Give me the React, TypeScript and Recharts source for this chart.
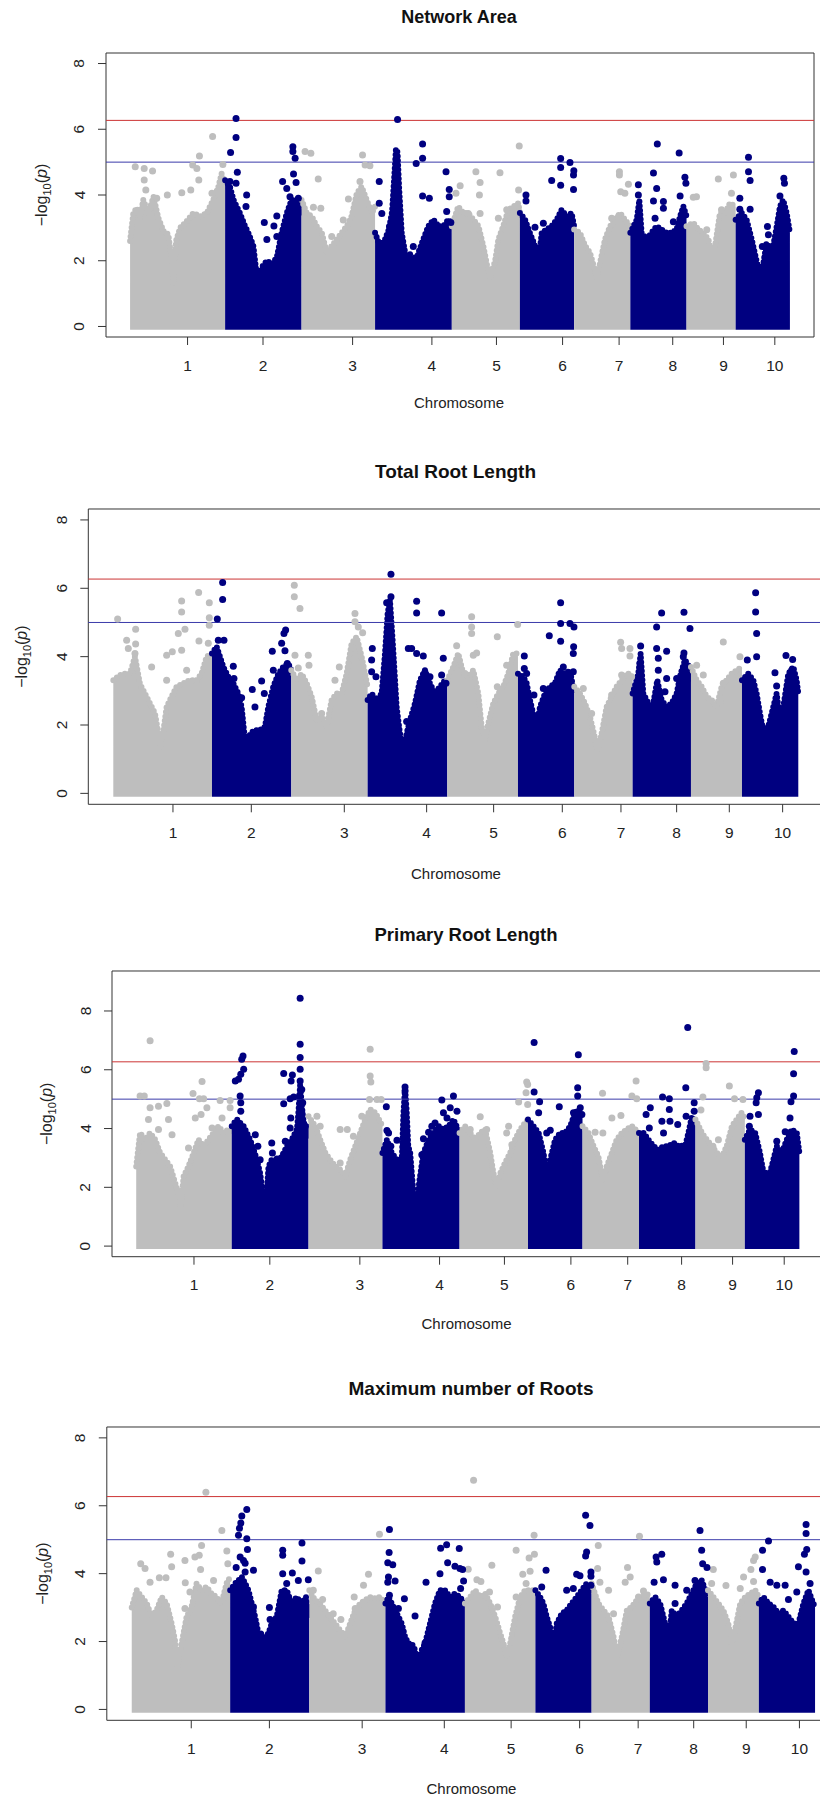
import React from 'react';
import { ComposedChart, Area, Scatter, XAxis, YAxis, ReferenceLine, ReferenceArea } from 'recharts';

// genome layout (cumulative Mb)
const chromStarts = [0, 296, 534, 763, 1002, 1214, 1383, 1558, 1733, 1886];
const chromTicks = [179, 414, 693, 940, 1141, 1347, 1523, 1690, 1848, 2008];
const chromLabels = ['1', '2', '3', '4', '5', '6', '7', '8', '9', '10'];
const yTicks = [0, 2, 4, 6, 8];
const bonferroni = 6.27;
const suggestive = 5;

// dense SNP cloud: top edge per chromosome, [position, -log10 p]
const networkAreaMass = [
  [[0, 2.6], [10, 3.45], [21, 3.6], [31, 3.3], [41, 3.85], [57, 3.45], [73, 3.95], [88, 3.3], [104, 2.9], [119, 2.8], [130, 2.0], [135, 1.3], [143, 2.6], [156, 3.0], [176, 3.2], [197, 3.45], [218, 3.35], [239, 3.45], [259, 3.85], [275, 4.25], [285, 4.65], [296, 4.25]],
  [[296, 4.45], [311, 4.25], [322, 3.85], [332, 3.65], [342, 3.45], [358, 3.05], [368, 2.85], [384, 2.45], [394, 1.6], [400, 1.2], [410, 1.8], [426, 2.0], [441, 1.9], [457, 2.1], [472, 2.85], [488, 3.45], [503, 3.85], [519, 3.85], [534, 3.45]],
  [[534, 3.85], [550, 3.45], [566, 3.35], [581, 3.05], [597, 2.85], [612, 2.25], [628, 2.45], [644, 2.65], [659, 2.85], [675, 3.05], [690, 3.35], [706, 4.05], [721, 4.25], [737, 3.85], [753, 3.45], [763, 3.65]],
  [[763, 2.85], [778, 2.45], [794, 2.65], [806, 2.95], [816, 3.5], [823, 4.6], [828, 5.4], [833, 5.3], [838, 4.2], [846, 2.85], [861, 2.0], [872, 2.2], [882, 1.65], [898, 2.25], [913, 2.65], [929, 3.05], [945, 3.25], [960, 3.05], [976, 3.05], [991, 3.25], [1002, 3.15]],
  [[1002, 3.05], [1022, 3.65], [1038, 3.45], [1053, 3.45], [1069, 3.25], [1085, 3.05], [1100, 2.45], [1113, 1.8], [1121, 1.5], [1137, 2.0], [1147, 2.65], [1162, 3.05], [1178, 3.55], [1194, 3.65], [1209, 3.75], [1214, 3.45]],
  [[1214, 3.45], [1230, 3.25], [1245, 2.85], [1261, 2.45], [1271, 1.9], [1282, 2.85], [1297, 2.95], [1313, 3.05], [1329, 3.25], [1344, 3.55], [1360, 3.35], [1375, 3.45], [1383, 3.05]],
  [[1383, 2.95], [1401, 2.85], [1417, 2.45], [1432, 2.25], [1445, 1.8], [1453, 1.5], [1463, 1.9], [1479, 2.65], [1495, 3.05], [1510, 3.25], [1526, 3.45], [1541, 3.25], [1558, 3.05]],
  [[1558, 2.85], [1578, 3.25], [1586, 3.85], [1593, 2.85], [1609, 2.65], [1624, 2.85], [1640, 3.05], [1655, 2.95], [1671, 2.85], [1687, 2.85], [1702, 2.95], [1713, 3.35], [1723, 3.65], [1733, 3.35]],
  [[1733, 3.05], [1754, 3.15], [1770, 2.95], [1785, 2.85], [1801, 2.65], [1811, 2.25], [1822, 2.45], [1837, 3.45], [1853, 3.45], [1868, 3.75], [1886, 3.65]],
  [[1886, 3.25], [1905, 3.45], [1920, 3.25], [1936, 2.65], [1951, 2.0], [1962, 1.6], [1972, 1.9], [1982, 2.55], [1993, 2.0], [2003, 2.45], [2014, 3.05], [2024, 3.65], [2034, 3.85], [2045, 3.45], [2055, 2.85]],
];
// isolated SNPs above the cloud
const networkAreaHits = [
  [16, 4.86], [44, 4.81], [44, 4.46], [70, 4.73], [49, 4.15], [83, 3.9], [116, 4.0], [161, 4.07], [189, 4.15], [195, 4.91], [208, 4.81], [216, 5.19], [257, 5.78], [289, 4.93], [255, 4.05], [214, 4.46],
  [330, 6.33], [330, 5.75], [313, 5.29], [334, 4.69], [311, 4.41], [330, 4.36], [363, 4.0], [361, 3.65], [418, 3.16], [426, 2.65], [448, 3.06], [457, 3.36], [457, 2.74], [475, 4.41], [488, 4.2], [507, 5.47], [507, 5.32], [514, 5.12], [509, 4.64], [517, 4.38], [498, 3.95], [524, 3.9],
  [545, 5.32], [563, 5.27], [586, 4.49], [571, 3.63], [594, 3.6], [680, 3.88], [724, 5.22], [732, 4.91], [747, 4.89], [716, 4.41], [664, 3.24], [628, 2.74],
  [833, 6.3], [830, 5.02], [776, 4.41], [776, 3.75], [784, 3.44], [808, 3.04], [911, 5.55], [911, 5.12], [891, 4.96], [911, 3.97], [932, 3.9], [882, 2.43], [887, 2.08], [984, 4.71], [994, 4.17], [994, 3.95], [986, 3.5], [999, 3.16],
  [1212, 5.49], [1152, 4.68], [1077, 4.71], [1090, 4.38], [1028, 4.28], [1015, 4.05], [1088, 4.0], [1053, 3.44], [1090, 3.44], [1147, 3.29], [1210, 4.15], [1173, 3.55],
  [1341, 5.11], [1370, 4.99], [1341, 4.84], [1313, 4.44], [1341, 4.3], [1382, 4.74], [1381, 4.61], [1381, 4.17], [1233, 4.0], [1233, 3.82], [1261, 3.02], [1287, 3.14],
  [1524, 4.71], [1524, 4.61], [1552, 4.33], [1528, 4.1], [1541, 4.05], [1500, 3.29], [1521, 3.34],
  [1642, 5.55], [1710, 5.28], [1630, 4.67], [1640, 4.2], [1583, 4.31], [1583, 4.0], [1630, 3.82], [1661, 3.8], [1661, 3.6], [1713, 3.97], [1728, 4.54], [1731, 4.36], [1635, 3.29], [1692, 3.19],
  [1832, 4.49], [1879, 4.61], [1873, 4.05], [1764, 3.95], [1754, 3.93], [1796, 2.94], [1842, 3.55],
  [1926, 5.15], [1926, 4.71], [1931, 4.44], [1899, 3.9], [1899, 3.57], [1931, 3.57], [2036, 4.51], [2038, 4.36], [2024, 3.97], [1985, 3.04], [1988, 2.79], [1969, 2.43], [1990, 2.43],
];

const totalRootMass = [
  [[0, 3.31], [20, 3.46], [35, 3.5], [50, 3.5], [65, 4.0], [80, 3.2], [95, 2.92], [110, 2.63], [125, 2.34], [135, 1.75], [142, 1.36], [152, 1.95], [160, 2.53], [175, 2.83], [190, 3.12], [210, 3.22], [230, 3.31], [250, 3.31], [265, 3.5], [280, 4.0], [296, 4.09]],
  [[296, 4.09], [310, 4.29], [320, 4.0], [330, 3.7], [345, 3.41], [360, 3.22], [375, 2.92], [385, 2.53], [395, 1.56], [402, 0.97], [410, 1.75], [425, 1.85], [440, 1.85], [455, 1.95], [465, 2.53], [480, 3.12], [495, 3.5], [510, 3.7], [525, 3.8], [534, 3.6]],
  [[534, 3.6], [550, 3.31], [565, 3.5], [580, 3.22], [595, 2.83], [610, 2.14], [625, 2.24], [640, 1.95], [655, 2.73], [670, 2.92], [685, 2.92], [700, 3.5], [715, 4.39], [730, 4.58], [745, 4.0], [763, 3.12]],
  [[763, 2.73], [775, 2.92], [790, 2.73], [805, 2.92], [815, 4.09], [823, 5.26], [830, 5.65], [838, 4.48], [850, 2.53], [860, 1.75], [870, 1.27], [880, 1.75], [890, 2.14], [905, 2.63], [920, 3.31], [935, 3.6], [950, 3.22], [965, 2.92], [980, 3.12], [995, 3.31], [1002, 3.12]],
  [[1002, 3.31], [1020, 3.7], [1035, 4.09], [1050, 3.5], [1065, 3.41], [1080, 3.6], [1095, 2.92], [1105, 1.95], [1115, 1.56], [1125, 2.05], [1140, 2.63], [1155, 2.92], [1170, 3.12], [1185, 3.5], [1200, 4.09], [1214, 4.09]],
  [[1214, 3.5], [1230, 3.41], [1240, 3.22], [1250, 2.73], [1262, 2.24], [1270, 1.95], [1280, 2.53], [1295, 2.92], [1310, 3.12], [1325, 3.22], [1340, 3.6], [1355, 3.5], [1370, 3.6], [1383, 2.92]],
  [[1383, 3.12], [1400, 2.92], [1415, 2.63], [1430, 2.24], [1442, 1.75], [1452, 1.27], [1465, 1.75], [1480, 2.53], [1495, 2.83], [1510, 3.12], [1525, 3.31], [1540, 3.5], [1558, 3.5]],
  [[1558, 2.92], [1575, 3.5], [1582, 4.09], [1590, 2.92], [1605, 2.63], [1618, 2.53], [1632, 3.31], [1645, 2.73], [1660, 2.53], [1675, 2.63], [1690, 2.92], [1702, 3.5], [1715, 3.9], [1728, 3.7], [1733, 3.31]],
  [[1733, 3.7], [1750, 3.31], [1765, 3.12], [1780, 2.83], [1795, 2.73], [1810, 2.53], [1825, 3.12], [1840, 3.31], [1855, 3.5], [1870, 3.6], [1886, 3.7]],
  [[1886, 3.31], [1905, 3.5], [1920, 3.31], [1930, 2.92], [1940, 2.34], [1950, 1.85], [1965, 1.95], [1980, 2.53], [1990, 2.92], [2000, 2.14], [2010, 2.53], [2025, 3.5], [2040, 3.7], [2050, 3.31], [2055, 2.92]],
];
const totalRootHits = [
  [13, 5.1], [40, 4.48], [45, 4.24], [67, 4.8], [67, 4.37], [65, 4.09], [115, 3.7], [160, 4.04], [177, 4.14], [195, 4.68], [205, 5.63], [205, 5.31], [215, 4.8], [205, 4.19], [256, 5.88], [257, 4.46], [288, 5.58], [288, 5.14], [288, 4.92], [285, 4.39], [220, 3.6], [160, 3.31],
  [328, 6.17], [328, 5.67], [312, 5.1], [315, 4.48], [332, 4.48], [360, 3.72], [362, 3.36], [385, 2.8], [417, 3.04], [445, 3.29], [453, 2.92], [425, 2.53], [477, 4.16], [505, 4.39], [512, 4.68], [517, 4.78], [515, 4.17], [480, 3.6], [500, 3.12], [522, 3.8],
  [543, 6.09], [543, 5.75], [560, 5.41], [545, 4.04], [585, 4.04], [587, 3.75], [555, 3.67], [678, 3.7], [665, 3.31], [725, 5.26], [725, 5.02], [735, 4.87], [748, 4.7], [625, 2.34],
  [833, 6.41], [820, 5.58], [833, 5.75], [777, 4.24], [775, 3.9], [775, 3.56], [788, 3.41], [885, 4.24], [880, 2.1], [910, 5.62], [910, 5.28], [985, 5.28], [895, 4.24], [910, 4.09], [930, 4.02], [990, 3.95], [935, 3.54], [950, 3.41], [985, 3.46], [998, 3.22],
  [1075, 5.17], [1075, 4.87], [1075, 4.68], [1152, 4.58], [1213, 4.94], [1030, 4.32], [1090, 4.11], [1080, 4.04], [1152, 3.12], [1180, 3.75], [1055, 3.51],
  [1342, 5.58], [1342, 4.97], [1342, 4.45], [1308, 4.61], [1370, 4.97], [1382, 4.87], [1381, 4.29], [1380, 4.09], [1233, 4.02], [1233, 3.65], [1240, 3.51], [1262, 2.88], [1290, 3.07], [1350, 3.7], [1380, 3.56],
  [1522, 4.42], [1525, 4.24], [1550, 4.24], [1550, 4.02], [1525, 3.46], [1495, 2.88], [1555, 3.41], [1435, 2.34], [1410, 3.07],
  [1645, 5.28], [1712, 5.3], [1630, 4.87], [1730, 4.82], [1582, 4.31], [1630, 4.24], [1660, 4.16], [1635, 3.95], [1712, 4.11], [1710, 4.0], [1635, 3.6], [1660, 3.36], [1690, 3.36], [1655, 2.97], [1580, 3.8],
  [1830, 4.43], [1880, 4.0], [1750, 3.75], [1770, 3.46], [1830, 3.22], [1820, 2.68],
  [1927, 5.87], [1927, 5.31], [1930, 4.68], [1930, 4.0], [1902, 3.9], [1985, 3.53], [1990, 3.14], [2018, 4.03], [2038, 3.92], [2035, 3.6], [2045, 3.27], [2045, 3.02],
];

const primaryRootMass = [
  [[0, 2.71], [12, 3.85], [28, 3.62], [43, 3.85], [59, 3.62], [74, 3.17], [90, 2.94], [105, 2.71], [121, 2.14], [131, 1.8], [138, 1.34], [147, 2.37], [162, 2.71], [178, 3.17], [193, 3.62], [209, 3.4], [224, 3.62], [240, 3.85], [255, 4.08], [271, 3.85], [286, 3.97], [296, 3.85]],
  [[296, 4.08], [312, 4.31], [322, 4.19], [333, 4.08], [343, 3.85], [353, 3.62], [364, 3.28], [374, 2.94], [384, 2.48], [395, 1.57], [400, 1.12], [410, 2.71], [420, 2.94], [436, 2.83], [451, 3.05], [467, 3.4], [482, 3.62], [498, 3.97], [503, 4.6], [508, 5.5], [513, 4.8], [519, 4.19], [529, 4.08], [534, 3.62]],
  [[534, 4.42], [555, 4.08], [570, 3.62], [586, 3.17], [601, 2.94], [617, 2.71], [632, 2.6], [648, 2.37], [663, 2.94], [679, 3.4], [694, 3.85], [710, 4.31], [725, 4.65], [741, 4.54], [763, 4.08]],
  [[763, 3.17], [777, 3.62], [792, 3.17], [808, 2.94], [823, 2.94], [828, 4.5], [833, 5.4], [838, 4.6], [843, 3.4], [849, 3.17], [859, 1.8], [868, 1.34], [878, 2.26], [890, 3.17], [906, 3.62], [921, 3.85], [937, 4.08], [952, 3.97], [968, 4.08], [983, 4.31], [1002, 3.85]],
  [[1002, 3.85], [1019, 4.08], [1035, 3.85], [1050, 3.62], [1066, 3.85], [1081, 3.97], [1097, 3.17], [1107, 2.48], [1117, 2.03], [1128, 2.48], [1143, 2.83], [1159, 3.17], [1174, 3.62], [1190, 3.97], [1205, 4.19], [1214, 4.31]],
  [[1214, 4.31], [1231, 4.08], [1247, 3.85], [1262, 3.17], [1272, 2.48], [1283, 2.94], [1298, 3.62], [1314, 3.85], [1329, 3.85], [1345, 4.08], [1360, 4.54], [1370, 4.65], [1383, 4.42]],
  [[1383, 4.08], [1401, 3.85], [1417, 3.4], [1432, 3.05], [1446, 2.26], [1458, 2.71], [1474, 3.17], [1489, 3.62], [1505, 3.85], [1520, 3.97], [1536, 4.08], [1558, 3.85]],
  [[1558, 3.85], [1572, 3.85], [1587, 3.62], [1603, 3.4], [1618, 3.28], [1634, 3.4], [1649, 3.4], [1665, 3.51], [1680, 3.4], [1696, 3.17], [1711, 3.85], [1722, 4.42], [1733, 4.08]],
  [[1733, 4.31], [1753, 3.85], [1768, 3.62], [1784, 3.4], [1799, 3.17], [1815, 3.05], [1830, 3.4], [1846, 4.08], [1861, 4.31], [1876, 4.54], [1886, 4.31]],
  [[1886, 3.62], [1902, 3.97], [1918, 3.85], [1933, 3.17], [1944, 2.48], [1954, 2.14], [1969, 2.71], [1985, 3.4], [2000, 3.17], [2016, 3.62], [2031, 3.97], [2047, 3.85], [2055, 3.17]],
];
const primaryRootHits = [
  [43, 6.99], [12, 5.11], [25, 5.11], [43, 4.71], [69, 4.76], [95, 4.85], [38, 4.31], [100, 4.31], [69, 3.97], [111, 3.79], [204, 5.6], [176, 5.19], [196, 5.01], [209, 5.01], [219, 4.71], [183, 4.36], [201, 4.48], [260, 4.95], [291, 4.95], [291, 4.71], [266, 4.36], [235, 4.02], [162, 3.34],
  [331, 6.47], [327, 6.36], [333, 6.02], [324, 5.85], [307, 5.62], [317, 5.68], [322, 5.11], [324, 4.88], [324, 4.59], [369, 3.79], [377, 3.4], [384, 2.94], [420, 3.51], [422, 3.17], [436, 2.96], [457, 5.87], [484, 5.82], [480, 5.62], [457, 4.84], [477, 5.01], [488, 5.07], [506, 5.11], [508, 8.43], [508, 6.87], [508, 6.42], [508, 6.02], [508, 5.62], [513, 5.33], [516, 4.88], [513, 4.54], [479, 4.36], [477, 4.02], [488, 3.62], [457, 3.11], [524, 4.08], [462, 3.57],
  [725, 6.7], [725, 5.79], [727, 5.58], [723, 4.99], [746, 4.99], [759, 4.99], [632, 3.97], [654, 3.97], [560, 4.42], [570, 4.08], [699, 4.42], [673, 3.74], [632, 2.83],
  [775, 4.74], [777, 3.93], [782, 3.85], [808, 3.6], [789, 3.4], [833, 5.41], [833, 5.28], [885, 3.11], [890, 3.65], [906, 3.87], [916, 4.08], [947, 4.97], [983, 5.11], [973, 4.71], [994, 4.59], [952, 4.54], [963, 4.36], [926, 4.19],
  [1066, 4.4], [1154, 4.08], [1185, 4.9], [1210, 5.58], [1213, 5.5], [1208, 5.22], [1213, 4.82], [1035, 3.97], [1086, 3.97], [1148, 3.85], [1164, 3.45],
  [1233, 6.93], [1233, 5.24], [1250, 4.91], [1247, 4.54], [1311, 4.74], [1283, 3.94], [1370, 6.51], [1368, 5.39], [1368, 5.11], [1376, 4.71], [1355, 4.54], [1381, 4.48], [1334, 3.85], [1272, 3.85],
  [1549, 5.62], [1445, 5.2], [1536, 5.11], [1551, 5.01], [1502, 4.44], [1474, 4.36], [1446, 3.85], [1422, 3.87],
  [1709, 7.44], [1703, 5.39], [1729, 4.88], [1631, 5.07], [1593, 4.71], [1580, 4.48], [1590, 4.02], [1652, 5.01], [1652, 4.65], [1629, 4.25], [1654, 4.25], [1678, 4.14], [1704, 4.42], [1729, 4.59], [1634, 3.85], [1691, 3.4],
  [1766, 6.21], [1766, 6.07], [1838, 5.45], [1756, 5.07], [1750, 4.63], [1854, 5.01], [1880, 4.99], [1874, 4.31], [1804, 3.62], [1787, 3.4],
  [2039, 6.62], [2037, 5.86], [2037, 5.11], [2029, 4.91], [2026, 4.36], [1928, 5.22], [1923, 5.05], [1921, 4.88], [1928, 4.48], [1902, 4.42], [1900, 4.08], [2011, 3.89], [1985, 3.57], [1949, 2.48],
];

const maxRootsMass = [
  [[0, 3.0], [15, 3.51], [30, 3.31], [45, 3.12], [60, 2.73], [75, 2.92], [90, 3.31], [105, 3.12], [120, 2.53], [130, 2.04], [137, 1.25], [150, 1.94], [165, 2.73], [180, 3.02], [195, 3.71], [210, 3.51], [225, 3.61], [240, 3.41], [255, 3.31], [270, 3.12], [285, 3.71], [296, 3.9]],
  [[296, 3.51], [311, 3.71], [321, 3.8], [331, 3.9], [341, 3.71], [351, 3.51], [361, 3.12], [371, 2.73], [381, 2.24], [391, 1.94], [401, 2.14], [411, 2.24], [421, 2.53], [436, 2.73], [451, 3.51], [466, 3.51], [481, 3.12], [496, 3.31], [511, 3.12], [524, 3.31], [534, 2.73]],
  [[534, 3.51], [551, 3.22], [566, 3.12], [581, 2.92], [596, 2.73], [611, 2.53], [627, 2.33], [642, 2.14], [657, 2.53], [672, 2.92], [687, 3.12], [702, 3.22], [717, 3.31], [732, 3.27], [747, 3.31], [763, 3.12]],
  [[763, 3.12], [772, 3.31], [782, 3.12], [792, 2.92], [802, 2.73], [812, 2.53], [822, 2.14], [832, 1.94], [842, 1.94], [852, 1.75], [862, 1.25], [872, 1.75], [882, 1.94], [897, 2.53], [912, 3.12], [927, 3.51], [942, 3.51], [957, 3.31], [972, 3.41], [987, 3.31], [1002, 3.12]],
  [[1002, 3.12], [1018, 3.31], [1033, 3.51], [1048, 3.31], [1063, 3.41], [1078, 3.12], [1093, 2.73], [1108, 2.24], [1118, 1.94], [1128, 1.55], [1138, 1.94], [1153, 2.73], [1168, 3.31], [1183, 3.51], [1198, 3.51], [1214, 3.51]],
  [[1214, 3.51], [1228, 3.31], [1238, 3.12], [1248, 2.73], [1258, 2.43], [1268, 1.75], [1278, 2.53], [1293, 2.82], [1308, 2.92], [1323, 3.12], [1338, 3.31], [1353, 3.51], [1368, 3.71], [1383, 3.51]],
  [[1383, 3.71], [1403, 3.12], [1419, 2.92], [1434, 2.73], [1449, 2.14], [1459, 1.55], [1474, 2.14], [1489, 2.92], [1504, 3.02], [1519, 3.22], [1534, 3.31], [1558, 3.41]],
  [[1558, 3.12], [1574, 3.31], [1589, 3.12], [1604, 2.53], [1614, 1.94], [1624, 2.92], [1639, 2.73], [1654, 2.92], [1669, 3.12], [1684, 3.41], [1699, 3.71], [1714, 3.8], [1733, 3.31]],
  [[1733, 3.51], [1749, 3.31], [1764, 3.12], [1779, 2.92], [1794, 2.53], [1804, 1.94], [1814, 2.33], [1830, 3.12], [1845, 3.31], [1860, 3.41], [1875, 3.51], [1886, 3.31]],
  [[1886, 3.12], [1900, 3.31], [1915, 3.12], [1930, 3.02], [1945, 2.82], [1960, 2.92], [1975, 2.73], [1990, 2.53], [2005, 2.53], [2020, 3.12], [2035, 3.51], [2050, 3.12], [2055, 3.0]],
];
const maxRootsHits = [
  [27, 4.29], [40, 4.15], [55, 3.75], [83, 3.88], [103, 3.88], [117, 4.57], [120, 4.2], [160, 4.39], [161, 3.73], [175, 3.46], [190, 4.49], [203, 4.54], [210, 4.83], [207, 4.12], [223, 6.4], [271, 5.27], [286, 4.67], [289, 4.29], [246, 3.8], [160, 2.97],
  [346, 5.89], [331, 5.7], [328, 5.49], [324, 5.34], [321, 5.13], [346, 5.03], [348, 4.71], [326, 4.49], [336, 4.39], [341, 4.31], [314, 4.18], [366, 4.1], [341, 4.05], [366, 3.02], [414, 3.0], [416, 2.65], [388, 2.22], [454, 4.69], [454, 4.54], [483, 4.02], [454, 4.0], [512, 4.9], [512, 4.37], [501, 3.8], [531, 3.82], [466, 3.71],
  [561, 4.08], [546, 3.51], [574, 3.24], [606, 2.82], [629, 2.65], [669, 3.31], [672, 2.97], [697, 3.66], [712, 3.98], [745, 5.16],
  [775, 5.3], [774, 4.62], [770, 4.32], [785, 4.26], [772, 3.9], [770, 3.75], [792, 3.78], [820, 3.26], [775, 3.36], [802, 2.97], [852, 2.75], [885, 3.75], [882, 1.96], [929, 4.75], [947, 4.85], [985, 4.74], [950, 4.32], [972, 4.22], [987, 4.15], [995, 4.12], [927, 4.0], [998, 3.78], [989, 3.56],
  [1028, 6.75], [1012, 4.13], [1038, 3.82], [1050, 3.77], [1083, 4.25], [1100, 3.02], [1076, 3.46], [1156, 4.69], [1176, 3.98], [1195, 4.46], [1198, 4.07], [1210, 5.13], [1211, 4.57], [1186, 3.71], [1156, 3.31],
  [1365, 5.72], [1378, 5.42], [1368, 4.64], [1365, 4.52], [1246, 4.1], [1233, 3.61], [1233, 3.07], [1381, 4.05], [1381, 3.92], [1338, 3.98], [1348, 3.94], [1308, 3.51], [1328, 3.56], [1381, 3.66],
  [1527, 5.1], [1403, 4.83], [1401, 4.15], [1408, 3.75], [1434, 3.51], [1449, 2.82], [1491, 4.18], [1499, 3.9], [1484, 3.75], [1539, 3.49], [1524, 3.31],
  [1709, 5.27], [1714, 4.69], [1577, 4.49], [1579, 4.34], [1594, 4.57], [1571, 3.75], [1599, 3.82], [1717, 4.29], [1730, 4.18], [1634, 3.66], [1669, 3.51], [1694, 3.8], [1634, 3.12],
  [1875, 4.49], [1870, 4.39], [1862, 4.12], [1840, 3.9], [1870, 3.77], [1830, 3.56], [1749, 4.12], [1787, 3.65], [1744, 3.71],
  [2028, 5.45], [2028, 5.18], [2030, 4.71], [2023, 4.57], [2005, 4.2], [2028, 4.05], [1915, 4.96], [1897, 4.69], [1897, 4.12], [1920, 3.75], [1940, 3.66], [1965, 3.66], [1975, 3.24], [2000, 3.46], [2040, 3.71],
];

const GREY = '#BEBEBE';
const NAVY = '#000080';
const FONT = '"Liberation Sans", Arial, Helvetica, sans-serif';
const X_DOMAIN = [-75, 2130];
const CHART_W = 900;
const TOP_PAD = 40;
const AXIS_H = 90;

const panels = [
  { title: 'Network Area', mass: networkAreaMass, hits: networkAreaHits, yMax: 8,
    boxTop: 53, boxBottom: 337, boxLeft: 106, boxRight: 814, titleCx: 459, titleTop: 10, titleSize: 18, labCx: 459, labBase: 408, ylabGap: 59 },
  { title: 'Total Root Length', mass: totalRootMass, hits: totalRootHits, yMax: 8,
    boxTop: 509, boxBottom: 804.3, boxLeft: 88.3, boxRight: 823.3, titleCx: 455.5, titleTop: 464, titleSize: 19, labCx: 456, labBase: 879, ylabGap: 61 },
  { title: 'Primary Root Length', mass: primaryRootMass, hits: primaryRootHits, yMax: 9,
    boxTop: 971, boxBottom: 1256.7, boxLeft: 112, boxRight: 823.6, titleCx: 466, titleTop: 928.3, titleSize: 18.5, labCx: 466.5, labBase: 1329, ylabGap: 60 },
  { title: 'Maximum number of Roots', mass: maxRootsMass, hits: maxRootsHits, yMax: 8,
    boxTop: 1426.7, boxBottom: 1720, boxLeft: 106.8, boxRight: 840, titleCx: 471, titleTop: 1381.7, titleSize: 19, labCx: 471.5, labBase: 1794, ylabGap: 59 },
];

function chromOf(pos: number) {
  let c = 0;
  chromStarts.forEach((s, i) => { if (pos >= s) c = i; });
  return c;
}

const YTick = (props: any) => {
  const { x, y, payload } = props;
  return (
    <text x={x} y={y} transform={`rotate(-90, ${x}, ${y})`} textAnchor="middle"
      fontFamily={FONT} fontSize={15.5} fill="#222">{payload.value}</text>
  );
};

const dot = (color: string) => (p: any) => <circle cx={p.cx} cy={p.cy} r={3.5} fill={color} />;

function Panel({ cfg }: { cfg: any }) {
  const plotH = cfg.boxBottom - cfg.boxTop;
  const height = TOP_PAD + plotH + AXIS_H;
  const yLo = -0.04 * cfg.yMax;
  const yHi = 1.04 * cfg.yMax;
  const offset = cfg.boxTop - TOP_PAD;
  const toPts = (arr: number[][]) => arr.map(([x, y]) => ({ x, y }));
  const greyHits = toPts(cfg.hits.filter((h: number[]) => chromOf(h[0]) % 2 === 0));
  const navyHits = toPts(cfg.hits.filter((h: number[]) => chromOf(h[0]) % 2 === 1));

  return (
    <>
      <div style={{
        position: 'absolute', left: cfg.titleCx - 300, width: 600, top: cfg.titleTop - 2.4,
        textAlign: 'center', fontFamily: FONT, fontWeight: 'bold', fontSize: cfg.titleSize,
        lineHeight: `${cfg.titleSize}px`, color: '#111', whiteSpace: 'nowrap',
      }}>{cfg.title}</div>
      <div style={{ position: 'absolute', left: 0, top: offset }}>
        <ComposedChart width={CHART_W} height={height}
          margin={{ top: TOP_PAD, right: CHART_W - cfg.boxRight, bottom: 0, left: 0 }}>
          <XAxis type="number" dataKey="x" domain={X_DOMAIN} allowDataOverflow ticks={chromTicks} interval={0}
            tickFormatter={(v: number) => chromLabels[chromTicks.indexOf(v)]}
            height={AXIS_H} axisLine={false} tickLine={{ stroke: '#333' }} tickSize={8} tickMargin={14.5}
            tick={{ fontFamily: FONT, fontSize: 15.5, fill: '#222' }}
            label={() => (
              <text x={cfg.labCx} y={cfg.labBase - offset} textAnchor="middle"
                fontFamily={FONT} fontSize={15} fill="#222">Chromosome</text>
            )} />
          <YAxis type="number" dataKey="y" domain={[yLo, yHi]} allowDataOverflow ticks={yTicks} interval={0}
            width={cfg.boxLeft} axisLine={false} tickLine={{ stroke: '#333' }} tickSize={8} tickMargin={13.5}
            tick={<YTick />}
            label={() => {
              const lx = cfg.boxLeft - cfg.ylabGap;
              const ly = TOP_PAD + plotH / 2;
              return (
                <text transform={`translate(${lx}, ${ly}) rotate(-90)`} textAnchor="middle"
                  fontFamily={FONT} fontSize={16} fill="#222">
                  <tspan>{'\u2212log'}</tspan>
                  <tspan fontSize={11} dy={4}>10</tspan>
                  <tspan dy={-4}>(</tspan>
                  <tspan fontStyle="italic">p</tspan>
                  <tspan>)</tspan>
                </text>
              );
            }} />
          {cfg.mass.map((chrom: number[][], i: number) => (
            <Area key={`m${i}`} data={toPts(chrom)} dataKey="y" type="linear"
              stroke={i % 2 === 0 ? GREY : NAVY} strokeWidth={6} strokeLinecap="round" strokeLinejoin="round"
              strokeDasharray="0 4.5"
              fill={i % 2 === 0 ? GREY : NAVY} fillOpacity={1} baseValue={-0.1}
              dot={false} activeDot={false} isAnimationActive={false} />
          ))}
          <Scatter data={greyHits} shape={dot(GREY)} isAnimationActive={false} />
          <Scatter data={navyHits} shape={dot(NAVY)} isAnimationActive={false} />
          <ReferenceLine y={bonferroni} stroke="#cc3333" strokeWidth={1} />
          <ReferenceLine y={suggestive} stroke="#3a3aaa" strokeWidth={1} />
          <ReferenceArea x1={X_DOMAIN[0]} x2={X_DOMAIN[1]} y1={yLo} y2={yHi}
            fill="none" stroke="#333" strokeWidth={1} ifOverflow="visible" />
        </ComposedChart>
      </div>
    </>
  );
}

export default function App() {
  return (
    <div style={{ position: 'absolute', left: 0, top: 0, width: 820, height: 1799, overflow: 'hidden', background: '#fff' }}>
      {panels.map((p) => <Panel key={p.title} cfg={p} />)}
    </div>
  );
}
